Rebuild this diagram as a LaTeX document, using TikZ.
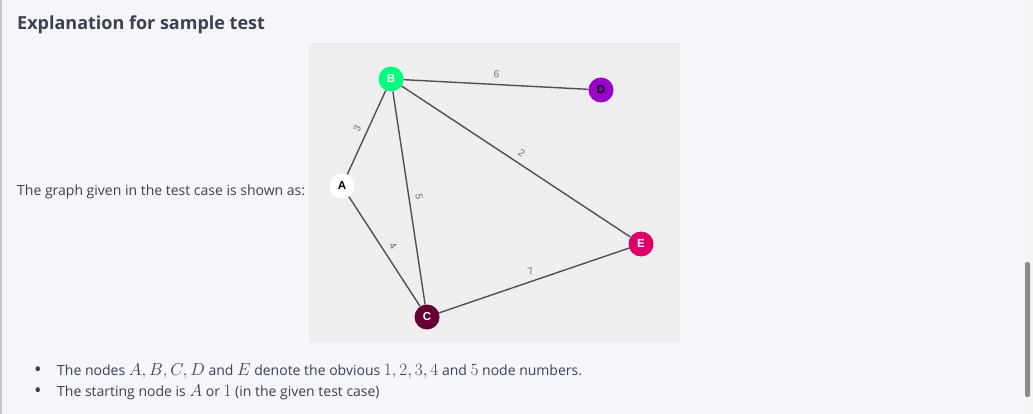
\documentclass[tikz,border=0pt]{standalone}
\usepackage{fontspec}
\setmainfont{Open Sans}
\newfontfamily\nodefont{Liberation Sans}
\usetikzlibrary{positioning}
\definecolor{pagebg}{RGB}{245,245,250}
\definecolor{panelbg}{RGB}{238,238,238}
\definecolor{inktext}{RGB}{57,66,78}
\definecolor{edgegray}{RGB}{80,80,80}
\definecolor{wtgray}{RGB}{110,110,110}
\definecolor{colB}{RGB}{0,255,127}
\definecolor{colC}{RGB}{102,0,51}
\definecolor{colD}{RGB}{153,0,204}
\definecolor{colE}{RGB}{221,0,102}
\newcommand{\mj}[1]{{\fontsize{16}{16}\selectfont$#1$}}
\tikzset{
  vertex/.style={circle,minimum size=25pt,inner sep=0pt,
    font=\nodefont\bfseries\fontsize{11.5}{11}\selectfont},
  wt/.style={font=\nodefont\fontsize{10}{10}\selectfont,text=wtgray,
    midway,above=4pt,sloped,inner sep=2pt},
  link/.style={draw=edgegray,line width=1.4pt},
  line/.style={anchor=base west,inner sep=0pt,text=inktext,
    font=\fontsize{14}{16}\selectfont}
}

\begin{document}
\begin{tikzpicture}[x=1pt,y=-1pt]
    % page, panel and scroll bar
    \fill[pagebg] (0,0) rectangle (1033,414);
    \useasboundingbox (0,0) rectangle (1033,414);
    \fill[black!22] (0,0) rectangle (1.5,414);
    \fill[panelbg] (309,43) rectangle (680,342);
    \fill[black!4] (1023,0) rectangle (1033,414);
    \fill[black!45,rounded corners=2pt] (1025,262) rectangle (1030,397);

    % texts
    \node (title) [line,font=\bfseries\fontsize{18}{20}\selectfont] at (17,30)
      {Explanation for sample test};
    \node (intro) [line] at (17,196)
      {The graph given in the test case is shown as:};
    \node (b1) [line,font=\fontsize{20}{20}\selectfont] at (34,376) {\textbullet};
    \node (l1) [line] at (57,375)
      {The nodes \mj{A,B,C,D} and \mj{E} denote the obvious \mj{1,2,3,4} and \mj{5} node numbers.};
    \node (b2) [line,font=\fontsize{20}{20}\selectfont] at (34,397) {\textbullet};
    \node (l2) [line] at (57,396)
      {The starting node is \mj{A} or \mj{1} (in the given test case)};

    % graph
    \node (A) [vertex,fill=white,text=black] at (342,186) {A};
    \node (B) [vertex,fill=colB,text=white] at (391,79) {B};
    \node (C) [vertex,fill=colC,text=white] at (427,317) {C};
    \node (D) [vertex,fill=colD,text=black] at (601,90) {D};
    \node (E) [vertex,fill=colE,text=white] at (641,244) {E};

    \path[link] (B) edge node[wt] {6} (D);
    \path[link] (A) edge node[wt] {3} (B);
    \path[link] (B) edge node[wt] {2} (E);
    \path[link] (B) edge node[wt] {5} (C);
    \path[link] (A) edge node[wt] {4} (C);
    \path[link] (C) edge node[wt] {7} (E);
\end{tikzpicture}
\end{document}
